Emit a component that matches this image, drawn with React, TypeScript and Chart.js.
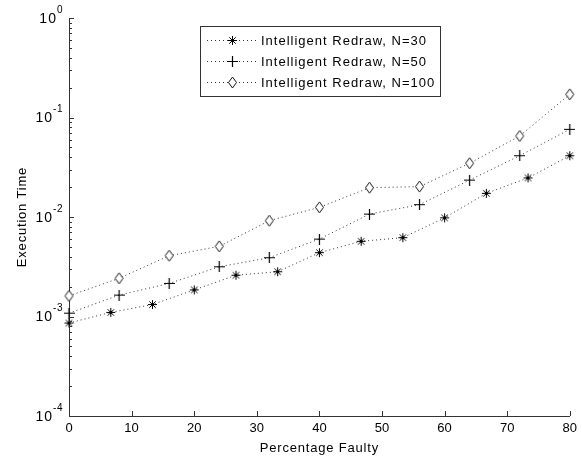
import React, { useEffect, useRef } from 'react';
import { Chart, registerables } from 'chart.js';

Chart.register(...registerables);

// ---- Data ----
const percentN30 = [0, 6.67, 13.33, 20, 26.67, 33.33, 40, 46.67, 53.33, 60, 66.67, 73.33, 80];
const timeN30 = [8.6e-4, 1.1e-3, 1.32e-3, 1.85e-3, 2.6e-3, 2.82e-3, 4.38e-3, 5.7e-3, 6.2e-3, 9.8e-3, 1.73e-2, 2.47e-2, 4.13e-2];
const percentN50 = [0, 8, 16, 24, 32, 40, 48, 56, 64, 72, 80];
const timeN50 = [1.08e-3, 1.64e-3, 2.15e-3, 3.16e-3, 3.9e-3, 6.0e-3, 1.07e-2, 1.33e-2, 2.35e-2, 4.13e-2, 7.6e-2];
const percentN100 = [0, 8, 16, 24, 32, 40, 48, 56, 64, 72, 80];
const timeN100 = [1.61e-3, 2.42e-3, 4.08e-3, 5.07e-3, 9.18e-3, 1.25e-2, 1.97e-2, 2.02e-2, 3.47e-2, 6.52e-2, 0.171];

const seriesLabels = ['Intelligent Redraw, N=30', 'Intelligent Redraw, N=50', 'Intelligent Redraw, N=100'];
const xTickValues = [0, 10, 20, 30, 40, 50, 60, 70, 80];
const yDecadeExponents = [-4, -3, -2, -1, 0];
const xTitle = 'Percentage Faulty';
const yTitle = 'Execution Time';

const FONT = '"Liberation Sans", Arial, sans-serif';
const INK = '#000';
const AXIS = '#333';

function makeMarker(kind: string): HTMLCanvasElement {
  const c = document.createElement('canvas');
  const ctx = c.getContext('2d')!;
  if (kind === 'star') {
    c.width = 11; c.height = 11;
    ctx.strokeStyle = '#000';
    ctx.lineWidth = 1;
    ctx.beginPath();
    ctx.moveTo(5.5, 1); ctx.lineTo(5.5, 10);
    ctx.moveTo(1, 5.5); ctx.lineTo(10, 5.5);
    ctx.moveTo(2.3, 2.3); ctx.lineTo(8.7, 8.7);
    ctx.moveTo(8.7, 2.3); ctx.lineTo(2.3, 8.7);
    ctx.stroke();
    ctx.fillStyle = '#000';
    ctx.fillRect(4, 4, 3, 3);
  } else if (kind === 'plus') {
    c.width = 11; c.height = 11;
    ctx.strokeStyle = '#000';
    ctx.lineWidth = 1.2;
    ctx.beginPath();
    ctx.moveTo(5.5, 0); ctx.lineTo(5.5, 11);
    ctx.moveTo(0, 5.5); ctx.lineTo(11, 5.5);
    ctx.stroke();
  } else {
    c.width = 11; c.height = 13;
    ctx.fillStyle = '#fff';
    ctx.strokeStyle = '#111';
    ctx.lineWidth = 1;
    ctx.beginPath();
    ctx.moveTo(5.5, 1); ctx.lineTo(9.5, 6.5); ctx.lineTo(5.5, 12); ctx.lineTo(1.5, 6.5);
    ctx.closePath();
    ctx.fill();
    ctx.stroke();
  }
  return c;
}

export default function App() {
  const canvasRef = useRef<HTMLCanvasElement | null>(null);

  useEffect(() => {
    if (!canvasRef.current) return;
    const markers = [makeMarker('star'), makeMarker('plus'), makeMarker('diamond')];
    const xs = [percentN30, percentN50, percentN100];
    const ys = [timeN30, timeN50, timeN100];

    const datasets = seriesLabels.map((label, i) => ({
      label,
      data: xs[i].map((x, j) => ({ x, y: ys[i][j] })),
      showLine: true,
      borderColor: '#333',
      borderWidth: 1,
      borderDash: [1, 3],
      pointStyle: markers[i],
      pointRadius: 5,
      backgroundColor: '#fff',
      clip: false as any,
      tension: 0,
    }));

    const axesPlugin = {
      id: 'matlabAxes',
      afterDraw(chart: any) {
        const ctx = chart.ctx as any;
        const xs = chart.scales.x;
        const ys = chart.scales.y;
        const { left, right, top, bottom } = chart.chartArea;
        ctx.save();
        // ticks (inward)
        ctx.strokeStyle = AXIS;
        ctx.lineWidth = 1;
        ctx.beginPath();
        xTickValues.forEach((v) => {
          const px = Math.round(xs.getPixelForValue(v)) + 0.5;
          ctx.moveTo(px, bottom);
          ctx.lineTo(px, bottom - 5);
        });
        yDecadeExponents.forEach((d) => {
          const py = Math.round(ys.getPixelForValue(Math.pow(10, d))) + 0.5;
          ctx.moveTo(left, py);
          ctx.lineTo(left + 5, py);
          if (d < 0) {
            for (let m = 2; m <= 9; m++) {
              const pm = Math.round(ys.getPixelForValue(m * Math.pow(10, d))) + 0.5;
              ctx.moveTo(left, pm);
              ctx.lineTo(left + 3, pm);
            }
          }
        });
        ctx.stroke();

        // y tick labels with superscript exponents
        ctx.fillStyle = INK;
        yDecadeExponents.forEach((d) => {
          const py = ys.getPixelForValue(Math.pow(10, d));
          const base = '10';
          const exp = String(d);
          ctx.letterSpacing = '1px';
          ctx.font = `14px ${FONT}`;
          const wb = ctx.measureText(base).width;
          ctx.letterSpacing = '0.5px';
          ctx.font = `10px ${FONT}`;
          const we = ctx.measureText(exp).width;
          const xRight = left - 6;
          ctx.textBaseline = 'middle';
          ctx.textAlign = 'left';
          ctx.letterSpacing = '1px';
          ctx.font = `14px ${FONT}`;
          ctx.fillText(base, xRight - we - wb, py + 1);
          ctx.letterSpacing = '0.5px';
          ctx.font = `10px ${FONT}`;
          ctx.fillText(exp, xRight - we, py - 8);
        });

        // axis titles
        ctx.letterSpacing = '0.8px';
        ctx.font = `13px ${FONT}`;
        ctx.textAlign = 'center';
        ctx.textBaseline = 'middle';
        ctx.fillText(xTitle, (left + right) / 2, 448);
        ctx.save();
        ctx.translate(22, (top + bottom) / 2);
        ctx.rotate(-Math.PI / 2);
        ctx.fillText(yTitle, 0, 0);
        ctx.restore();

        // legend
        const bx = 200.5, by = 26.5, bw = 240, bh = 70;
        ctx.fillStyle = '#fff';
        ctx.fillRect(bx, by, bw, bh);
        ctx.strokeStyle = '#333';
        ctx.lineWidth = 1;
        ctx.strokeRect(bx, by, bw, bh);
        const rows = [40, 61, 82];
        seriesLabels.forEach((label, i) => {
          const ry = rows[i] + 0.5;
          ctx.save();
          ctx.strokeStyle = '#333';
          ctx.setLineDash([1, 3]);
          ctx.beginPath();
          ctx.moveTo(207, ry);
          ctx.lineTo(258, ry);
          ctx.stroke();
          ctx.restore();
          const mk = markers[i];
          ctx.drawImage(mk, Math.round(232.5 - mk.width / 2), Math.round(ry - mk.height / 2));
          ctx.fillStyle = INK;
          ctx.letterSpacing = '1px';
          ctx.font = `13px ${FONT}`;
          ctx.textAlign = 'left';
          ctx.textBaseline = 'middle';
          ctx.fillText(label, 261, ry + 1);
        });
        ctx.letterSpacing = '0px';
        ctx.restore();
      },
    };

    const chart = new Chart(canvasRef.current, {
      type: 'scatter',
      data: { datasets },
      options: {
        animation: false,
        responsive: true,
        maintainAspectRatio: false,
        layout: { padding: { left: 0, right: 10, top: 18, bottom: 0 } },
        plugins: { legend: { display: false }, tooltip: { enabled: false } },
        scales: {
          x: {
            type: 'linear',
            min: 0,
            max: 80,
            afterBuildTicks: (s: any) => { s.ticks = xTickValues.map((v) => ({ value: v })); },
            afterFit: (s: any) => { s.height = 43; },
            grid: { display: false, drawTicks: false },
            border: { display: true, color: AXIS, width: 1 },
            ticks: { color: INK, font: { family: FONT, size: 13 }, padding: 5, maxRotation: 0 },
          },
          y: {
            type: 'logarithmic',
            min: 1e-4,
            max: 1,
            afterFit: (s: any) => { s.width = 69; },
            grid: { display: false, drawTicks: false },
            border: { display: true, color: AXIS, width: 1 },
            ticks: { display: false },
          },
        },
      },
      plugins: [axesPlugin],
    } as any);
    return () => chart.destroy();
  }, []);

  return (
    <div style={{ position: 'absolute', left: 0, top: 0, width: 582, height: 459, background: '#fff' }}>
      <canvas ref={canvasRef} />
    </div>
  );
}
